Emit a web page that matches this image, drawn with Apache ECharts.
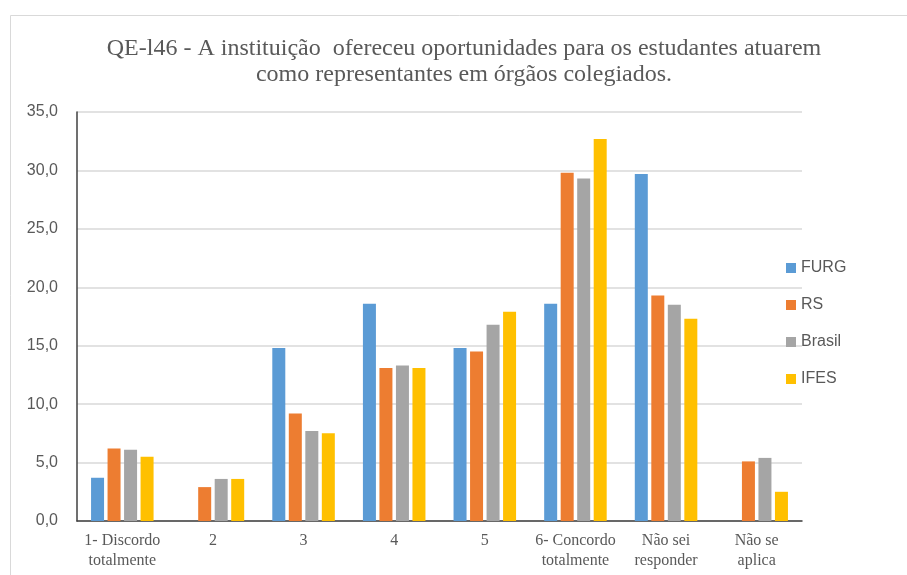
<!DOCTYPE html>
<html>
<head>
<meta charset="utf-8">
<script src="https://cdn.jsdelivr.net/npm/echarts@6/dist/echarts.min.js"></script>
<style>
  html, body { margin: 0; padding: 0; background: #fff; }
  #chart { width: 907px; height: 575px; }
</style>
</head>
<body>
<div id="chart"></div>
<script>
// categorias (eixo x)
var categorias = ['1- Discordo\ntotalmente', '2', '3', '4', '5', '6- Concordo\ntotalmente', 'Não sei\nresponder', 'Não se\naplica'];
// valores por série (%)
var furg   = [3.7, 0,   14.8, 18.6, 14.8, 18.6, 29.7, 0];
var rs     = [6.2, 2.9, 9.2,  13.1, 14.5, 29.8, 19.3, 5.1];
var brasil = [6.1, 3.6, 7.7,  13.3, 16.8, 29.3, 18.5, 5.4];
var ifes   = [5.5, 3.6, 7.5,  13.1, 17.9, 32.7, 17.3, 2.5];

var chart = echarts.init(document.getElementById('chart'));

var option = {
  animation: false,
  graphic: [
    { // moldura do gráfico
      type: 'rect',
      shape: { x: 10.5, y: 15.5, width: 1000, height: 1000 },
      style: { fill: 'none', stroke: '#d9d9d9', lineWidth: 1 },
      silent: true
    }
  ],
  title: {
    text: 'QE-l46 - A instituição  ofereceu oportunidades para os estudantes atuarem\ncomo representantes em órgãos colegiados.',
    left: 464,
    top: 31,
    textAlign: 'center',
    padding: [5, 0, 5, 0],
    textStyle: {
      fontFamily: 'Liberation Serif',
      fontWeight: 'normal',
      fontSize: 24,
      lineHeight: 26,
      color: '#595959'
    }
  },
  legend: {
    orient: 'vertical',
    left: 781,
    top: 255,
    icon: 'rect',
    itemWidth: 10,
    itemHeight: 10,
    itemGap: 21,
    textStyle: { fontFamily: 'Liberation Sans', fontSize: 16, color: '#595959' },
    data: ['FURG', 'RS', 'Brasil', 'IFES']
  },
  grid: {
    left: 77,
    right: 105,
    top: 112,
    bottom: 54
  },
  xAxis: {
    type: 'category',
    data: categorias,
    axisLine: { lineStyle: { color: '#404040', width: 1.5 } },
    axisTick: { show: false },
    axisLabel: {
      interval: 0,
      margin: 10,
      fontFamily: 'Liberation Serif',
      fontSize: 16,
      lineHeight: 20,
      color: '#595959'
    }
  },
  yAxis: {
    type: 'value',
    min: 0,
    max: 35,
    interval: 5,
    axisLine: { show: true, lineStyle: { color: '#404040', width: 1.5 } },
    axisTick: { show: false },
    axisLabel: {
      margin: 19,
      fontFamily: 'Liberation Sans',
      fontSize: 16,
      color: '#595959',
      formatter: function (v) { return v.toFixed(1).replace('.', ','); }
    },
    splitLine: { lineStyle: { color: '#d9d9d9', width: 1.5 } }
  },
  series: [
    { name: 'FURG',   type: 'bar', data: furg,   barWidth: 13, barGap: '27%', itemStyle: { color: '#5b9bd5' } },
    { name: 'RS',     type: 'bar', data: rs,     barWidth: 13, barGap: '27%', itemStyle: { color: '#ed7d31' } },
    { name: 'Brasil', type: 'bar', data: brasil, barWidth: 13, barGap: '27%', itemStyle: { color: '#a5a5a5' } },
    { name: 'IFES',   type: 'bar', data: ifes,   barWidth: 13, barGap: '27%', itemStyle: { color: '#ffc000' } }
  ]
};

chart.setOption(option);
</script>
</body>
</html>
